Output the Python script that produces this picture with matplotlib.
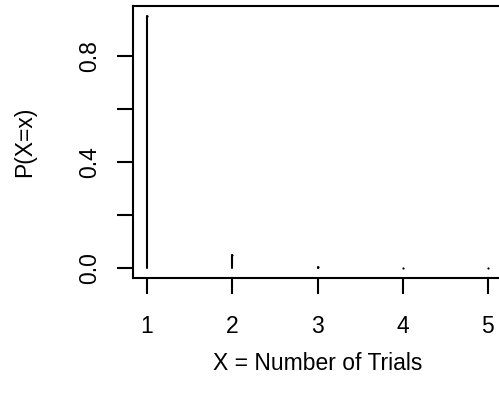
import matplotlib
matplotlib.use("Agg")
import matplotlib.pyplot as plt

plt.rcParams['font.family'] = ['Liberation Sans', 'DejaVu Sans']

# geometric pmf, p = 0.95
trials = [1, 2, 3, 4, 5]
prob = [0.95, 0.0475, 0.002375, 0.00011875, 0.0000059375]

fig = plt.figure(figsize=(4.99, 4.08), dpi=100)
W, H = 499.0, 408.0
left, right = 133.4, 501.6
top, bottom = 6.2, 278.0
ax = fig.add_axes([left / W, 1 - bottom / H, (right - left) / W, (bottom - top) / H])

lc = ax.vlines(trials, 0, prob, color='black', lw=1.5)
lc.set_capstyle('round')
# round line ends still show as dots for the tiny values
ax.plot(trials, prob, ls='none', marker='o', ms=1.6, mew=0, color='black')

ax.set_xlim(0.84, 5.16)
ax.set_ylim(-0.038, 0.988)

ax.set_xticks(trials)
ax.set_yticks([0, 0.2, 0.4, 0.6, 0.8])
ax.set_yticklabels(['0.0', '', '0.4', '', '0.8'], rotation=90, va='center')

for s in ax.spines.values():
    s.set_linewidth(1.5)
    s.set_clip_on(False)

ax.tick_params(axis='both', length=11.5, width=1.5, labelsize=16.5)
ax.tick_params(axis='x', pad=15)
ax.tick_params(axis='y', pad=12)

ax.set_xlabel('X = Number of Trials', fontsize=16.5)
ax.set_ylabel('P(X=x)', fontsize=16.5)
ax.xaxis.label.set_va('center')
ax.yaxis.label.set_va('center')
ax.xaxis.set_label_coords(0.5, (bottom - 363) / (bottom - top))
ax.yaxis.set_label_coords((25 - left) / (right - left), 0.5)

fig.savefig('out.png', dpi=100)
